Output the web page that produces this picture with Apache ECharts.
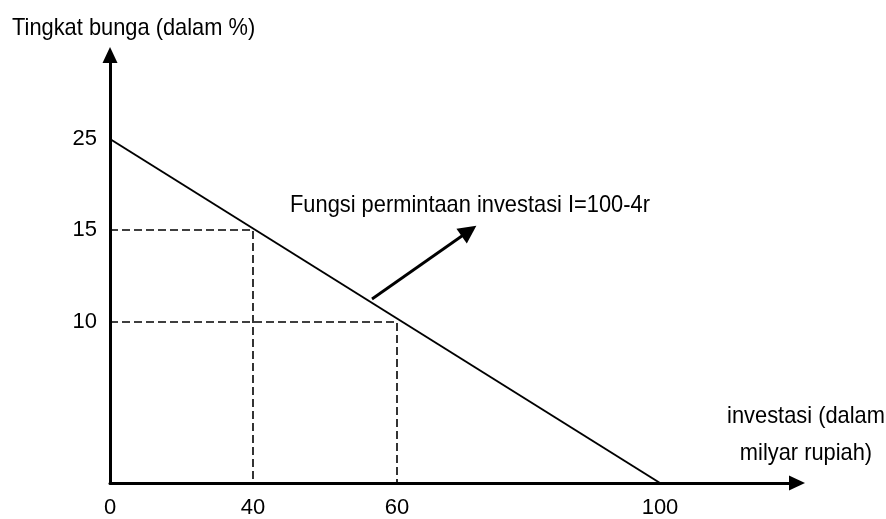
<!DOCTYPE html>
<html><head><meta charset="utf-8">
<script src="https://cdn.jsdelivr.net/npm/echarts@6/dist/echarts.min.js"></script>
<style>html,body{margin:0;padding:0;background:#fff}#c{width:886px;height:519px}</style>
</head><body><div id="c"></div><script>
// ---- data (real units) ----
const xTicks = [0, 40, 60, 100];          // investasi (milyar rupiah)
const yTicks = [10, 15, 25];              // tingkat bunga (%)
const demandLine = [[0, 25], [100, 0]];   // I = 100 - 4r
const guidePoints = [[40, 15], [60, 10]];
const annotationText = 'Fungsi permintaan investasi I=100-4r';

// ---- schematic (not-to-scale) axis anchors: value -> drawn units ----
const X_ANCHOR_V = [0, 40, 60, 100], X_ANCHOR_D = [0, 143, 287, 550];
const Y_ANCHOR_V = [0, 10, 15, 25],  Y_ANCHOR_D = [0, 161, 253, 344];
function interp(vs, ds, v) {
  let i = 0;
  while (i < vs.length - 2 && v > vs[i + 1]) i++;
  const t = (v - vs[i]) / (vs[i + 1] - vs[i]);
  return ds[i] + t * (ds[i + 1] - ds[i]);
}
const toX = v => interp(X_ANCHOR_V, X_ANCHOR_D, v);
const toY = v => interp(Y_ANCHOR_V, Y_ANCHOR_D, v);
const pt = p => [toX(p[0]), toY(p[1])];

const FONT = '"Liberation Sans", Arial, sans-serif';
const X_MAX = 687, Y_MAX = 428;

const guideSeries = guidePoints.map(p => ({
  type: 'line', showSymbol: false, silent: true,
  data: [pt([0, p[1]]), pt(p), pt([p[0], 0])],
  lineStyle: { color: '#000', width: 1.6, type: [8, 4] }
}));

function txt(text, x, y, align) {
  return { type: 'text', x: x, y: y, scaleX: 0.91, z: 10,
    style: { text: text, x: 0, y: 0, font: '24px ' + FONT, fill: '#000', align: align, verticalAlign: 'middle' } };
}

const chart = echarts.init(document.getElementById('c'));
chart.setOption({
  animation: false,
  backgroundColor: '#fff',
  grid: { left: 110, top: 55, width: X_MAX, height: Y_MAX, containLabel: false },
  xAxis: {
    type: 'value', min: 0, max: X_MAX,
    splitLine: { show: false }, axisTick: { show: false },
    axisLine: { show: true, symbol: ['none', 'triangle'], symbolSize: [15, 16],
      lineStyle: { color: '#000', width: 3 } },
    axisLabel: {
      customValues: xTicks.map(toX), margin: 14,
      color: '#000', fontSize: 22, fontFamily: FONT,
      formatter: v => { const i = xTicks.findIndex(t => Math.abs(toX(t) - v) < 0.5); return i >= 0 ? String(xTicks[i]) : ''; }
    }
  },
  yAxis: {
    type: 'value', min: 0, max: Y_MAX,
    splitLine: { show: false }, axisTick: { show: false },
    axisLine: { show: true, symbol: ['none', 'triangle'], symbolSize: [15, 16],
      lineStyle: { color: '#000', width: 3 } },
    axisLabel: {
      customValues: yTicks.map(toY), margin: 13,
      color: '#000', fontSize: 22, fontFamily: FONT,
      formatter: v => { const i = yTicks.findIndex(t => Math.abs(toY(t) - v) < 0.5); return i >= 0 ? String(yTicks[i]) : ''; }
    }
  },
  series: [
    ...guideSeries,
    {
      type: 'line', showSymbol: false, silent: true,
      data: demandLine.map(pt),
      lineStyle: { color: '#000', width: 2 }
    },
    {
      type: 'lines', coordinateSystem: 'cartesian2d', silent: true,
      symbol: ['none', 'triangle'], symbolSize: [14, 18],
      lineStyle: { color: '#000', width: 2.8, opacity: 1 },
      data: [{ coords: [[262, 184], [359, 252]] }]
    }
  ],
  graphic: [
    txt('Tingkat bunga (dalam %)', 12, 28, 'left'),
    txt(annotationText, 290, 205, 'left'),
    txt('investasi (dalam', 806, 416, 'center'),
    txt('milyar rupiah)', 806, 453, 'center')
  ]
});
</script></body></html>
